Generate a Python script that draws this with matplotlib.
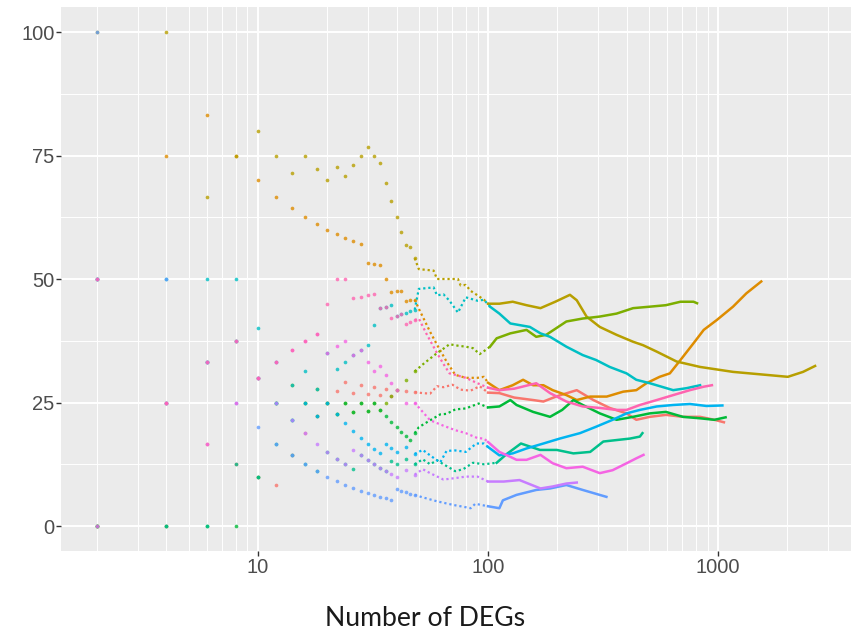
import numpy as np
import matplotlib
matplotlib.use("Agg")
import matplotlib.pyplot as plt
from matplotlib.ticker import FixedLocator, NullFormatter

# percentage of hits vs. number of DEGs, one curve per gene set
x_low = [2, 4, 6, 8, 10, 12, 14, 16, 18, 20, 22, 24, 26, 28, 30, 32, 34, 36, 38, 40]

y_low_red = [0, 0, 16.7, 12.5, 10, 8.3, 14.3, 18.8, 22.2, 25, 27.3, 29.2, 26.9, 28.6, 26.7, 28.1, 26.5, 27.8, 26.3, 27.5]
x_red = [44, 48, 52, 56, 60, 64, 70, 76, 84, 92, 100, 112, 130, 157, 174, 200, 243, 287, 338, 400, 441, 505, 593, 703, 835, 963, 1060]
y_red = [27.3, 27.1, 26.9, 26.8, 28.3, 28.1, 28.6, 27.6, 27.4, 28.3, 27.0, 26.9, 26.0, 25.5, 25.2, 26.3, 27.5, 25.5, 23.9, 22.8, 21.5, 22.1, 22.5, 22.1, 22.1, 21.5, 21.0]

y_low_orange = [50, 75, 83.3, 75, 70, 66.7, 64.3, 62.5, 61.1, 60, 59.1, 58.3, 57.7, 57.1, 53.3, 53.1, 52.9, 50, 47.4, 47.5]
x_orange = [42, 44, 46, 48, 50, 56, 60, 66, 72, 80, 90, 96, 100, 112, 128, 142, 157, 174, 191, 219, 243, 278, 328, 387, 441, 488, 557, 617, 686, 782, 866, 987, 1161, 1327, 1540]
y_orange = [47.6, 45.5, 45.7, 45.8, 44, 39.3, 36.7, 33.3, 30.6, 30, 30, 30.2, 29, 27.5, 28.5, 29.6, 28.5, 28.5, 27.5, 26.5, 25.5, 26.2, 26.2, 27.2, 27.5, 28.9, 30.2, 30.9, 33.6, 37, 39.7, 41.7, 44.4, 47.1, 49.5]

y_low_olive = [100, 100, 66.7, 75, 80, 75, 71.4, 75, 72.2, 70, 72.7, 70.8, 73.1, 75, 76.7, 75, 73.5, 69.4, 65.8, 62.5]
x_olive = [42, 44, 46, 48, 50, 58, 60, 74, 76, 80, 84, 90, 96, 100, 112, 128, 147, 169, 196, 227, 243, 268, 306, 362, 427, 472, 541, 660, 835, 1161, 1615, 2010, 2340, 2640]
y_olive = [59.5, 56.8, 56.5, 54.2, 52, 51.7, 50, 50, 48.7, 48.8, 47.6, 46.7, 45.8, 45, 45, 45.4, 44.7, 44.1, 45.4, 46.8, 45.7, 42.4, 40.3, 38.7, 37.3, 36.6, 35.3, 33.3, 32.2, 31.2, 30.6, 30.2, 31.2, 32.4]

y_low_lime = [0, 25, 33.3, 37.5, 30, 25, 28.6, 25, 27.8, 25, 22.7, 25, 23.1, 25, 23.3, 25, 23.5, 25, 26.3, 27.5]
x_lime = [44, 48, 52, 56, 60, 64, 68, 74, 80, 86, 92, 96, 102, 109, 125, 147, 162, 179, 219, 258, 306, 362, 427, 505, 593, 686, 782, 810]
y_lime = [29.5, 31.3, 32.7, 33.9, 35, 35.9, 36.8, 36.5, 36.3, 36, 34.8, 35.4, 36.3, 38, 39, 39.7, 38.3, 38.7, 41.4, 42, 42.4, 43, 44.1, 44.4, 44.7, 45.4, 45.4, 45.1]

y_low_green = [0, 0, 0, 0, 10, 25, 21.4, 25, 22.2, 25, 22.7, 25, 23.1, 25, 23.3, 25, 23.5, 22.2, 21.1, 20]
x_green = [42, 44, 46, 48, 50, 56, 62, 66, 72, 80, 91, 100, 112, 125, 133, 157, 186, 210, 235, 258, 306, 362, 427, 505, 593, 703, 835, 963, 1078]
y_green = [19, 18.2, 17.4, 18.8, 20, 21.4, 22.6, 22.7, 23.6, 23.8, 24.8, 24, 24.2, 25.5, 24.5, 23.1, 22.1, 23.5, 25.5, 24.5, 22.8, 21.5, 22.1, 22.8, 23.1, 22.1, 21.8, 21.5, 22]

y_low_teal = [0, 0, 0, 12.5, 10, 16.7, 14.3, 12.5, 11.1, 15, 13.6, 12.5, 11.5, 14.3, 13.3, 12.5, 11.8, 11.1, 13.2, 12.5]
x_teal = [44, 48, 52, 56, 60, 64, 68, 72, 78, 86, 96, 109, 120, 139, 168, 199, 235, 278, 317, 362, 414, 457, 469]
y_teal = [13.6, 12.5, 13.5, 12.5, 13.3, 12.5, 11.8, 11.1, 11.5, 12.8, 12.5, 12.8, 14.5, 16.7, 15.4, 15.4, 14.7, 15, 17.1, 17.4, 17.7, 18.1, 18.8]

y_low_cyan = [50, 50, 50, 50, 40, 33.3, 28.6, 31.3, 27.8, 35, 31.8, 33.3, 34.6, 35.7, 36.7, 40.6, 44.1, 44.4, 44.7, 42.5]
x_cyan = [42, 44, 46, 48, 50, 58, 60, 64, 68, 74, 80, 90, 96, 102, 112, 125, 152, 169, 186, 219, 258, 295, 338, 400, 441, 505, 638, 729, 835]
y_cyan = [42.9, 43.2, 43.5, 43.8, 48, 48.3, 46.7, 46.9, 45.6, 43.2, 46.3, 45.6, 45.8, 44.4, 43, 41, 40.3, 39, 38.3, 36.3, 34.6, 33.6, 32.2, 30.9, 29.6, 28.9, 27.5, 27.9, 28.5]

y_low_blue = [50, 25, 33.3, 37.5, 30, 25, 21.4, 25, 22.2, 25, 22.7, 20.8, 19.2, 17.9, 16.7, 15.6, 14.7, 16.7, 15.8, 15]
x_blue = [44, 48, 52, 56, 60, 62, 66, 72, 80, 89, 96, 100, 112, 128, 147, 174, 205, 251, 295, 348, 400, 457, 541, 638, 754, 890, 1044]
y_blue = [15.9, 14.6, 15.4, 14.3, 13.3, 12.9, 15.2, 15.3, 15, 16.7, 16.7, 16, 14.3, 14.7, 15.7, 16.7, 17.7, 18.8, 20.1, 21.5, 22.8, 23.5, 24.2, 24.5, 24.7, 24.3, 24.4]

y_low_periwinkle = [100, 50, 33.3, 25, 20, 16.7, 14.3, 12.5, 11.1, 10, 9.1, 8.3, 7.7, 7.1, 6.7, 6.3, 5.9, 5.6, 5.3, 7.5]
x_periwinkle = [42, 44, 46, 48, 52, 60, 70, 80, 84, 88, 100, 112, 116, 133, 162, 186, 219, 258, 327]
y_periwinkle = [7.1, 6.8, 6.5, 6.3, 5.8, 5, 4.3, 3.8, 3.6, 4.5, 4, 3.6, 5.2, 6.3, 7.3, 7.6, 8.3, 7.3, 5.9]

y_low_purple = [50, 25, 33.3, 37.5, 30, 25, 21.4, 18.8, 16.7, 15, 13.6, 12.5, 15.4, 14.3, 13.3, 12.5, 11.8, 11.1, 10.5, 10]
x_purple = [44, 48, 52, 56, 64, 72, 80, 90, 96, 100, 117, 137, 169, 191, 219, 243]
y_purple = [11.4, 10.4, 11.5, 10.7, 9.4, 9.7, 10, 10, 9.4, 9, 9, 9.3, 7.6, 8, 8.6, 8.8]

y_low_magenta = [0, 25, 16.7, 25, 30, 33.3, 35.7, 37.5, 38.9, 35, 36.4, 37.5, 34.6, 35.7, 33.3, 31.3, 32.4, 30.6, 28.9, 27.5]
x_magenta = [44, 48, 50, 56, 64, 72, 80, 90, 96, 100, 112, 125, 133, 147, 169, 191, 219, 258, 306, 348, 400, 441, 474]
y_magenta = [25, 25, 24, 21.4, 20.3, 19.4, 18.8, 17.8, 17.7, 17, 15, 14, 13.4, 13.4, 14.4, 12.7, 11.7, 12, 10.7, 11.3, 12.7, 13.7, 14.4]

y_low_pink = [50, 25, 33.3, 37.5, 30, 33.3, 35.7, 37.5, 38.9, 45, 50, 50, 46.2, 46.4, 46.7, 46.9, 44.1, 44.4, 42.1, 42.5]
x_pink = [42, 44, 46, 48, 50, 54, 60, 64, 68, 72, 80, 90, 100, 112, 130, 162, 186, 219, 258, 306, 362, 400, 457, 541, 638, 754, 866, 940]
y_pink = [42.9, 40.9, 41.3, 41.7, 42, 38.9, 35, 32.8, 30.9, 30.6, 30, 28.9, 28, 27.5, 27.8, 28.9, 26.9, 25.2, 24.2, 23.9, 23.5, 23.5, 24.5, 25.5, 26.5, 27.5, 28.2, 28.5]

series = [
    ("#F8766D", y_low_red, x_red, y_red),
    ("#DE8C00", y_low_orange, x_orange, y_orange),
    ("#B79F00", y_low_olive, x_olive, y_olive),
    ("#7CAE00", y_low_lime, x_lime, y_lime),
    ("#00BA38", y_low_green, x_green, y_green),
    ("#00C08B", y_low_teal, x_teal, y_teal),
    ("#00BFC4", y_low_cyan, x_cyan, y_cyan),
    ("#00B4F0", y_low_blue, x_blue, y_blue),
    ("#619CFF", y_low_periwinkle, x_periwinkle, y_periwinkle),
    ("#C77CFF", y_low_purple, x_purple, y_purple),
    ("#F564E3", y_low_magenta, x_magenta, y_magenta),
    ("#FF64B0", y_low_pink, x_pink, y_pink),
]

DOT_END = 48      # single points up to here
SOLID_START = 100  # dense enough to read as a solid line from here


def draw_series(ax, color, y_low, xt, yt):
    xs = np.array(x_low + xt, dtype=float)
    ys = np.array(y_low + yt, dtype=float)
    dots = xs <= DOT_END
    ax.scatter(xs[dots], ys[dots], s=7, color=color, alpha=0.8, linewidths=0, zorder=3)
    i0 = np.searchsorted(xs, DOT_END)
    i1 = min(np.searchsorted(xs, SOLID_START), len(xs) - 1)
    ax.plot(xs[i0:i1 + 1], ys[i0:i1 + 1], color=color, lw=1.6,
            ls=(0, (1, 1.3)), solid_capstyle="round", zorder=3)
    ax.plot(xs[i1:], ys[i1:], color=color, lw=1.8, zorder=3)


fig = plt.figure(figsize=(8.51, 6.42), dpi=100)
ax = fig.add_axes([0.0721, 0.1422, 0.9279, 0.8464])
ax.set_facecolor("#EBEBEB")
ax.set_xscale("log")
ax.set_xlim(1.397, 3782)
ax.set_ylim(-5, 105)

ax.xaxis.set_major_locator(FixedLocator([10, 100, 1000]))
ax.xaxis.set_minor_locator(FixedLocator([m * d for d in (1, 10, 100, 1000) for m in range(2, 10)]))
ax.xaxis.set_minor_formatter(NullFormatter())
ax.set_xticklabels(["10", "100", "1000"])
ax.yaxis.set_major_locator(FixedLocator([0, 25, 50, 75, 100]))
ax.yaxis.set_minor_locator(FixedLocator([12.5, 37.5, 62.5, 87.5]))
ax.set_yticklabels(["0", "25", "50", "75", "100"])

ax.grid(which="major", color="white", lw=1.4)
ax.grid(which="minor", color="white", lw=0.7)
ax.set_axisbelow(True)
for sp in ax.spines.values():
    sp.set_visible(False)
ax.tick_params(which="major", length=3.5, width=1, color="#333333",
               labelsize=14.5, labelcolor="#4D4D4D", pad=1.5, labelfontfamily="Liberation Sans")
ax.tick_params(which="minor", length=0)

for color, y_low, xt, yt in series:
    draw_series(ax, color, y_low, xt, yt)

fig.text(0.4995, 0.037, "Number of DEGs", ha="center", va="center",
         fontsize=19.2, family="Lato", color="#1a1a1a")

fig.savefig("out.png", dpi=100)
